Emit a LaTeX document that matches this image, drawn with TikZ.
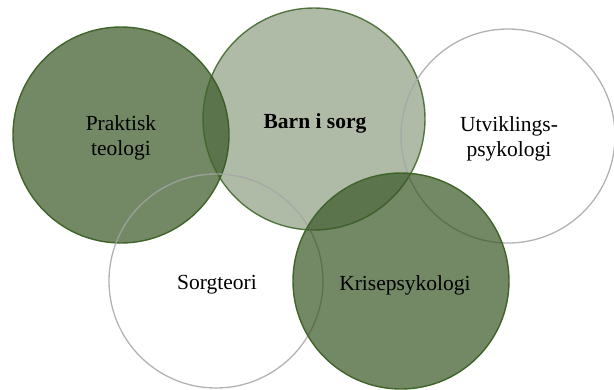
\documentclass[tikz,border=0pt]{standalone}
\usepackage{fontspec}
\setmainfont{Liberation Serif}
\definecolor{dkgreen}{RGB}{55,86,35}
\definecolor{edgegreen}{RGB}{62,100,40}
\definecolor{ringgray}{RGB}{165,165,165}
\begin{document}
\begin{tikzpicture}[x=1pt,y=-1pt,
  venn/.style={circle, inner sep=0pt},
  darkset/.style={venn, fill=dkgreen, fill opacity=0.7, draw=edgegreen, line width=1.4pt},
  lightset/.style={venn, fill=dkgreen, fill opacity=0.4, draw=edgegreen, draw opacity=0.85, line width=1.4pt},
  openset/.style={venn, draw=ringgray, draw opacity=0.85, line width=1.3pt},
  lbl/.style={align=center, inner sep=0pt, font=\fontsize{21.5}{25}\selectfont, text=black}]
\useasboundingbox (0,0) rectangle (614,389);
\node[darkset, minimum size=216pt] (pt) at (121,135) {};
\node[lightset, minimum size=222pt] (bs) at (314,119) {};
\node[openset, minimum size=214pt] (up) at (508,136) {};
\node[openset, minimum size=214pt] (st) at (216,281) {};
\node[darkset, minimum size=216pt] (kp) at (401,281) {};
\node[lbl] (ptl) at (121,138) {Praktisk\\teologi};
\node[lbl] (bsl) at (315,123) {\textbf{Barn i sorg}};
\node[lbl] (upl) at (509,139) {Utviklings-\\psykologi};
\node[lbl] (stl) at (217,285) {Sorgteori};
\node[lbl] (kpl) at (405,285) {Krisepsykologi};
\end{tikzpicture}
\end{document}
